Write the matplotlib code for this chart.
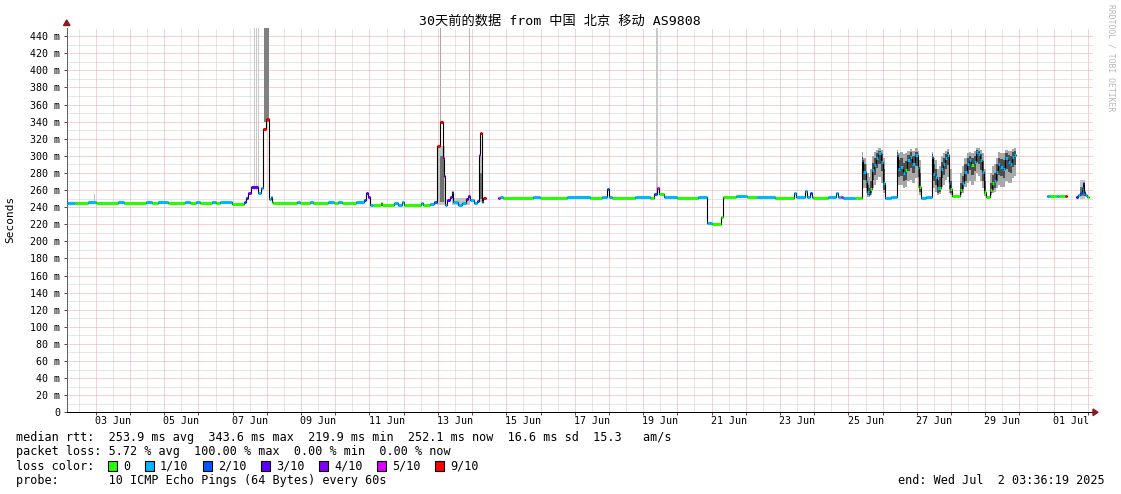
import numpy as np
import matplotlib
matplotlib.use("Agg")
import matplotlib.pyplot as plt
from matplotlib.patches import Polygon, Rectangle
from matplotlib.transforms import offset_copy

# ---------------- data ----------------
# time unit: day of June (June d 00:00 -> d, July 1 -> 31)
t_start = 2.150   # Jun 2 03:36:19
t_end = 32.150    # Jul 2 03:36:19

day_lines = list(range(3, 33))
label_days = [3, 5, 7, 9, 11, 13, 15, 17, 19, 21, 23, 25, 27, 29, 31]
label_text = ["03 Jun", "05 Jun", "07 Jun", "09 Jun", "11 Jun", "13 Jun", "15 Jun",
              "17 Jun", "19 Jun", "21 Jun", "23 Jun", "25 Jun", "27 Jun", "29 Jun", "01 Jul"]

y_ticks = list(range(0, 441, 20))
y_tick_labels = ["0"] + [f"{v} m" for v in range(20, 441, 20)]

loss_labels = ["0", "1/10", "2/10", "3/10", "4/10", "5/10", "9/10"]
loss_colors = ["#26ff00", "#00b8ff", "#0059ff", "#5e00ff", "#7e00ff", "#dd00ff", "#ff0000"]

nan = float("nan")

# median rtt steps (ms), loss index into loss_colors; nan = no data
med_t = [2.15, 2.38, 2.76, 3.00, 3.64, 3.82, 4.46, 4.64, 4.81, 5.10, 5.60, 5.75, 5.92, 6.04,
         6.39, 6.51, 6.62, 6.97, 7.33, 7.38, 7.44, 7.53, 7.73, 7.82, 7.88, 7.97, 8.06, 8.11,
         8.14, 8.17,
         8.88, 8.96, 9.26, 9.34, 9.78, 9.96, 10.07, 10.19, 10.60, 10.83, 10.89, 10.95, 11.01,
         11.10, 11.33, 11.36, 11.71, 11.83, 11.95, 12.00, 12.50, 12.56, 12.76, 12.88, 12.97,
         13.06, 13.14, 13.17, 13.20, 13.26, 13.35, 13.41, 13.44, 13.58, 13.70, 13.82, 13.88,
         13.93, 14.05, 14.14, 14.20, 14.23, 14.28, 14.31, 14.40,
         14.75, 14.81, 14.90, 15.78, 15.98, 16.77, 17.44, 17.79, 17.94, 18.00, 18.09, 18.76,
         19.20, 19.31, 19.40, 19.46, 19.61, 19.99, 20.60, 20.86, 21.01, 21.27, 21.33, 21.71,
         22.03, 22.33, 22.85, 23.41, 23.47, 23.73, 23.79, 23.88, 23.93, 23.96, 24.40, 24.64,
         24.69, 24.78, 24.84, 25.19,
         25.40, 25.43, 25.51, 25.54, 25.60, 25.63, 25.69, 25.75, 25.81, 25.86, 25.95, 26.01,
         26.07, 26.24, 26.42, 26.45, 26.51, 26.60, 26.65, 26.71, 26.80, 26.86, 26.95, 27.03,
         27.06, 27.12, 27.27, 27.44, 27.47, 27.53, 27.59, 27.65, 27.71, 27.76, 27.82, 27.88,
         27.94, 27.97, 28.03, 28.26, 28.32, 28.38, 28.47, 28.52, 28.58, 28.67, 28.73, 28.79,
         28.85, 28.90, 28.96, 29.02, 29.14, 29.20, 29.26, 29.31, 29.37, 29.43, 29.52, 29.58,
         29.67, 29.72, 29.78, 29.84, 29.90,
         30.81, 30.90, 31.10, 31.16, 31.33, 31.39,
         31.65, 31.71, 31.77, 31.83, 31.86, 31.89, 31.92, 31.98, 32.04]
med_ms = [245, 245, 246, 245, 246, 245, 246, 245, 246, 245, 246, 245, 246, 245,
          246, 245, 246, 243.5, 246, 251, 256, 264, 256, 262, 331, 343, 249, 252,
          246, 245,
          246, 245, 246, 245, 246, 245, 246, 245, 246, 248, 256, 252, 243,
          242.5, 245, 242.5, 245, 243, 246, 242.5, 245, 242.5, 244, 246, 312,
          340, 297, 276, 242, 248, 252, 258, 246, 243, 245, 249, 253,
          248, 245, 247, 301, 327, 246, 251, nan,
          251, 252, 251, 252, 251, 252, 251, 252, 261, 252, 251, 252,
          251, 255, 262, 255, 252, 251, 252, 221.5, 220, 228, 252, 253,
          252, 252, 251, 256, 252, 259, 252, 256, 252, 251, 252, 256,
          252, 252, 251, 251,
          295, 281, 271, 258, 255, 261, 283, 289, 298, 303, 293, 268,
          251, 252, 301, 285, 287, 280, 283, 295, 299, 291, 301, 287,
          264, 251, 252, 299, 279, 275, 262, 262, 285, 290, 297, 301,
          268, 261, 253, 260, 268, 281, 291, 295, 289, 293, 305, 302,
          295, 281, 258, 252, 260, 268, 270, 281, 291, 287, 284, 297,
          293, 291, 299, 301, nan,
          253, 253, 253, 253, 253, nan,
          252, 254, 256, 262, 268, 258, 254, 252, nan]
med_loss = [1, 0, 1, 0, 1, 0, 1, 0, 1, 0, 1, 0, 1, 0,
            1, 0, 1, 0, 2, 3, 4, 3, 1, 1, 6, 6, 1, 1,
            0, 0,
            1, 0, 1, 0, 1, 0, 1, 0, 1, 2, 3, 4, 1,
            0, 0, 0, 1, 1, 1, 0, 1, 0, 1, 2, 6,
            6, 5, 4, 1, 3, 4, 2, 1, 1, 1, 3, 4,
            1, 1, 2, 5, 6, 1, 6, 0,
            5, 1, 0, 1, 0, 1, 0, 1, 2, 1, 0, 1,
            0, 2, 5, 0, 1, 0, 1, 1, 0, 0, 0, 1,
            0, 1, 0, 1, 1, 1, 1, 2, 1, 0, 1, 1,
            1, 5, 1, 0,
            1, 1, 1, 1, 1, 0, 1, 1, 1, 1, 1, 1,
            1, 1, 1, 1, 1, 1, 0, 1, 1, 1, 1, 1,
            0, 1, 1, 1, 1, 1, 1, 0, 1, 1, 1, 1,
            1, 0, 0, 0, 1, 1, 1, 1, 0, 1, 1, 1,
            1, 1, 0, 0, 0, 0, 1, 1, 1, 1, 1, 1,
            1, 1, 1, 1, 0,
            1, 0, 1, 0, 6, 0,
            3, 1, 2, 1, 4, 2, 1, 0, 0]

# smoke of the 10 pings during the 25-30 Jun humps (step-aligned, ms)
hump_t = [25.40, 25.43, 25.51, 25.54, 25.60, 25.63, 25.69, 25.75, 25.81, 25.86, 25.95, 26.01,
          26.07, 26.24, 26.42, 26.45, 26.51, 26.60, 26.65, 26.71, 26.80, 26.86, 26.95, 27.03,
          27.06, 27.12, 27.27, 27.44, 27.47, 27.53, 27.59, 27.65, 27.71, 27.76, 27.82, 27.88,
          27.94, 27.97, 28.03, 28.26, 28.32, 28.38, 28.47, 28.52, 28.58, 28.67, 28.73, 28.79,
          28.85, 28.90, 28.96, 29.02, 29.14, 29.20, 29.26, 29.31, 29.37, 29.43, 29.52, 29.58,
          29.67, 29.72, 29.78, 29.84, 29.90]
hump_lo_out = [268, 262, 256, 252, 252, 254, 262, 266, 272, 275, 268, 256,
               nan, nan, 270, 266, 266, 262, 264, 270, 272, 268, 274, 262,
               254, nan, nan, 268, 262, 258, 254, 255, 264, 266, 272, 275,
               256, 254, nan, 254, 257, 263, 268, 270, 266, 270, 280, 276,
               270, 262, 253, nan, 254, 256, 258, 262, 266, 264, 263, 270,
               268, 268, 274, 276, nan]
hump_lo_in = [282, 272, 262, 254, 253, 256, 272, 278, 286, 290, 282, 260,
              nan, nan, 285, 275, 276, 270, 272, 282, 286, 280, 288, 275,
              258, nan, nan, 282, 270, 266, 257, 258, 274, 278, 285, 289,
              261, 256, nan, 256, 261, 271, 279, 283, 278, 282, 293, 290,
              283, 270, 255, nan, 256, 260, 262, 270, 278, 276, 274, 285,
              281, 280, 287, 289, nan]
hump_hi_in = [299, 290, 280, 266, 262, 270, 292, 298, 303, 306, 302, 285,
              nan, nan, 305, 295, 297, 292, 294, 301, 304, 300, 305, 298,
              280, nan, nan, 302, 290, 285, 272, 275, 293, 297, 302, 305,
              285, 270, nan, 268, 276, 290, 298, 300, 297, 300, 307, 306,
              302, 294, 270, nan, 268, 277, 280, 290, 298, 296, 295, 303,
              301, 300, 305, 306, nan]
hump_hi_out = [304, 298, 290, 280, 275, 285, 300, 305, 307, 309, 307, 298,
               nan, nan, 307, 303, 304, 302, 303, 306, 308, 306, 309, 306,
               295, nan, nan, 305, 298, 295, 285, 288, 300, 303, 306, 308,
               298, 285, nan, 280, 288, 298, 303, 305, 303, 306, 309, 309,
               307, 303, 285, nan, 280, 288, 290, 298, 304, 303, 303, 307,
               306, 306, 308, 309, nan]

# other smoke patches: start, end, outer low/high, inner low/high (ms)
smoke_t0 = [2.95, 12.97, 13.06, 13.40, 14.20, 31.77]
smoke_t1 = [2.99, 13.20, 13.17, 13.93, 14.28, 31.92]
smoke_lo_out = [244, 243, 243, 243, 246, 250]
smoke_hi_out = [255, 312, 312, 251, 300, 272]
smoke_lo_in = [nan, nan, 246, nan, 250, 253]
smoke_hi_in = [nan, nan, 300, nan, 280, 263]

# pings beyond the scale (smoke running off the top)
spike_t0 = [7.62, 7.68, 7.75, 7.91, 13.06, 13.90, 19.37]
spike_t1 = [7.64, 7.70, 7.77, 8.06, 13.09, 13.93, 19.43]
spike_lo = [260, 260, 260, 340, 340, 253, 255]
spike_col = ["#c8c8c8", "#c8c8c8", "#c8c8c8", "#808080", "#a8a8a8", "#b8b8b8", "#c8c8c8"]

legend_lines = [
    "median rtt:  253.9 ms avg  343.6 ms max  219.9 ms min  252.1 ms now  16.6 ms sd  15.3   am/s",
    "packet loss: 5.72 % avg  100.00 % max  0.00 % min  0.00 % now",
]
probe_line = "probe:       10 ICMP Echo Pings (64 Bytes) every 60s"
end_line = "end: Wed Jul  2 03:36:19 2025"
title = "30天前的数据 from 中国 北京 移动 AS9808"

# ---------------- figure ----------------
W, H = 1121, 494
fig = plt.figure(figsize=(W / 100, H / 100), dpi=100)
mono = "DejaVu Sans Mono"

ax_l, ax_r, ax_t, ax_b = 66.7, 1093.0, 28.0, 412.3
ax = fig.add_axes([ax_l / W, 1 - ax_b / H, (ax_r - ax_l) / W, (ax_b - ax_t) / H])
ax.set_xlim(t_start, t_end)
ax.set_ylim(0, 449.5)

# grid
minor_x = [d + 0.5 for d in range(2, 32)]
ax.set_xticks(day_lines)
ax.set_xticks(minor_x, minor=True)
ax.set_yticks(y_ticks)
ax.set_yticks(list(range(10, 450, 20)), minor=True)
ax.set_yticklabels(y_tick_labels, fontfamily=mono, fontsize=7.2)
ax.set_xticklabels([])
ax.tick_params(axis="x", which="major", length=2.2, width=0.72, color="#505050", direction="out")
ax.tick_params(axis="x", which="minor", length=0)
ax.tick_params(axis="y", which="major", length=2.2, width=0.72, color="#505050", pad=2.6)
ax.tick_params(axis="y", which="minor", length=0)
ax.grid(which="minor", color="#cccccc", linestyle=(0, (1, 1)), linewidth=0.72, zorder=0)
ax.grid(which="major", color="#f0a4a4", linestyle=(0, (1, 1)), linewidth=0.72, zorder=0)
ax.set_axisbelow(True)
for s in ["top", "right"]:
    ax.spines[s].set_visible(False)
ax.spines["left"].set_color("#606060")
ax.spines["left"].set_linewidth(0.72)
ax.spines["bottom"].set_color("#000000")
ax.spines["bottom"].set_linewidth(0.72)

# x labels centered at noon
lab_tr = offset_copy(ax.get_xaxis_transform(), fig=fig, x=0, y=-4, units="dots")
for d, s in zip(label_days, label_text):
    ax.text(d + 0.5, 0, s, transform=lab_tr, ha="center", va="top",
            fontfamily=mono, fontsize=7.2, color="#000000")

OUT_C, IN_C = "#a8a8a8", "#4e4e4e"

# smoke running off the top
for a, b, lo, c in zip(spike_t0, spike_t1, spike_lo, spike_col):
    ax.fill_between([a, b], [lo, lo], [1000, 1000], color=c, lw=0, zorder=1)

# hump smoke
for i in range(len(hump_t) - 1):
    if np.isnan(hump_lo_out[i]):
        continue
    a, b = hump_t[i], hump_t[i + 1]
    ax.fill_between([a, b], [hump_lo_out[i]] * 2, [hump_hi_out[i]] * 2, color=OUT_C, lw=0, zorder=1.5)
    ax.fill_between([a, b], [hump_lo_in[i]] * 2, [hump_hi_in[i]] * 2, color=IN_C, lw=0, zorder=1.6)

# other smoke
for a, b, lo, hi, li, hii in zip(smoke_t0, smoke_t1, smoke_lo_out, smoke_hi_out, smoke_lo_in, smoke_hi_in):
    ax.fill_between([a, b], [lo, lo], [hi, hi], color="#c4c4c4", lw=0, zorder=1.5)
    if not np.isnan(li):
        ax.fill_between([a, b], [li, li], [hii, hii], color="#707070", lw=0, zorder=1.6)

# median: black steps + loss-coloured bars
t_arr = np.array(med_t)
m_arr = np.array(med_ms, dtype=float)
ax.step(t_arr, m_arr, where="post", color="#000000", lw=0.8, zorder=3)
for i in range(len(t_arr) - 1):
    if np.isnan(m_arr[i]):
        continue
    ax.hlines(m_arr[i], t_arr[i], t_arr[i + 1], colors=loss_colors[med_loss[i]],
              lw=2.2, zorder=4)

# axis arrows
def fx(x):
    return x / W
def fy(y):
    return 1 - y / H
arrow_c = "#8b1c1c"
fig.patches.append(Polygon([(fx(63.5), fy(25.5)), (fx(70.0), fy(25.5)), (fx(66.7), fy(20.0))],
                           closed=True, transform=fig.transFigure, color=arrow_c))
fig.patches.append(Polygon([(fx(1093), fy(409)), (fx(1093), fy(415.6)), (fx(1098), fy(412.3))],
                           closed=True, transform=fig.transFigure, color=arrow_c))

# title, labels
fig.text(fx(560), fy(21), title, ha="center", va="center",
         fontfamily=[mono, "Noto Sans CJK SC"], fontsize=9.5, color="#000000")
fig.text(fx(10), fy(219), "Seconds", rotation=90, ha="center", va="center",
         fontfamily=mono, fontsize=8, color="#000000")
fig.text(fx(1111), fy(4), "RRDTOOL / TOBI OETIKER", rotation=270, ha="center", va="top",
         fontfamily=mono, fontsize=5.8, color="#b8b8b8")

# legend
leg_y = [437.5, 451.8, 466.0, 480.2]
fig.text(fx(16), fy(leg_y[0]), legend_lines[0], ha="left", va="center", fontfamily=mono, fontsize=8.5)
fig.text(fx(16), fy(leg_y[1]), legend_lines[1], ha="left", va="center", fontfamily=mono, fontsize=8.5)
fig.text(fx(16), fy(leg_y[2]), "loss color:", ha="left", va="center", fontfamily=mono, fontsize=8.5)
box_x = [108, 145, 203, 261, 319, 377, 435]
for bx, c, lab in zip(box_x, loss_colors, loss_labels):
    fig.patches.append(Rectangle((fx(bx), fy(leg_y[2] + 5)), 9 / W, 10 / H,
                                 transform=fig.transFigure, facecolor=c,
                                 edgecolor="#000000", lw=0.8))
    fig.text(fx(bx + 15), fy(leg_y[2]), lab, ha="left", va="center", fontfamily=mono, fontsize=8.5)
fig.text(fx(16), fy(leg_y[3]), probe_line, ha="left", va="center", fontfamily=mono, fontsize=8.5)
fig.text(fx(1105), fy(leg_y[3]), end_line, ha="right", va="center", fontfamily=mono, fontsize=8.5)

fig.savefig("out.png", dpi=100, facecolor="white")
